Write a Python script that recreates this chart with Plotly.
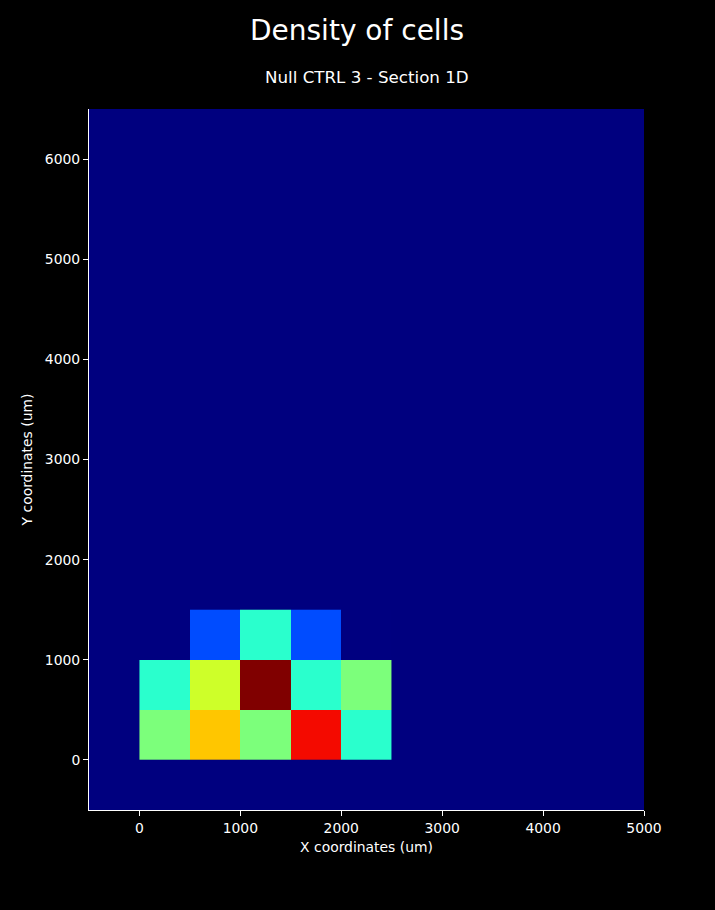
import numpy as np
import plotly.graph_objects as go

# Data: bin centers (um) and cell counts per 500 um bin
x_centers = [250, 750, 1250, 1750, 2250]
y_centers = [250, 750, 1250]
counts = [
    [5, 7, 5, 9, 4],    # y 0-500
    [4, 6, 10, 4, 5],   # y 500-1000
    [0, 2, 4, 2, 0],    # y 1000-1500
]
x_ticks = [0, 1000, 2000, 3000, 4000, 5000]
y_ticks = [0, 1000, 2000, 3000, 4000, 5000, 6000]

# matplotlib 'jet' colormap
def jet_scale():
    red = [(0, 0), (0.35, 0), (0.66, 1), (0.89, 1), (1, 0.5)]
    green = [(0, 0), (0.125, 0), (0.375, 1), (0.64, 1), (0.91, 0), (1, 0)]
    blue = [(0, 0.5), (0.11, 1), (0.34, 1), (0.65, 0), (1, 0)]
    pts = sorted(set([p for seg in (red, green, blue) for p, _ in seg]))
    def interp(seg, t):
        xs = [a for a, _ in seg]; ys = [b for _, b in seg]
        return float(np.interp(t, xs, ys))
    scale = []
    for t in pts:
        r, g, b = (round(255 * interp(s, t)) for s in (red, green, blue))
        scale.append([t, f"rgb({r},{g},{b})"])
    return scale

jet = jet_scale()
fig = go.Figure(go.Heatmap(
    x=x_centers, y=y_centers, z=counts,
    colorscale=jet, zmin=0, zmax=10, showscale=False,
    hoverongaps=False,
))

font = "DejaVu Sans"
fig.update_layout(
    width=715, height=910,
    paper_bgcolor="black", plot_bgcolor="#00007f",
    margin=dict(l=89, r=71, t=109, b=100),
    font=dict(family=font, color="white", size=14),
)
fig.add_annotation(text="Density of cells", xref="paper", yref="paper",
                   x=(357 - 89) / 555, y=1 + (109 - 31) / 701, xanchor="center", yanchor="middle",
                   showarrow=False, font=dict(size=28, color="white", family=font))
fig.add_annotation(text="Null CTRL 3 - Section 1D", xref="paper", yref="paper",
                   x=(367 - 89) / 555, y=1 + (109 - 77) / 701, xanchor="center", yanchor="middle",
                   showarrow=False, font=dict(size=16.7, color="white", family=font))

fig.update_xaxes(
    range=[-500, 5000], tickvals=x_ticks, ticktext=[str(v) for v in x_ticks],
    showgrid=False, zeroline=False, showline=True, linecolor="white", linewidth=1,
    ticks="outside", ticklen=5, tickcolor="white", tickfont=dict(size=13.9),
    title=dict(text="X coordinates (um)", font=dict(size=13.9), standoff=7),
)
fig.update_yaxes(
    range=[-500, 6500], tickvals=y_ticks, ticktext=[str(v) for v in y_ticks],
    showgrid=False, zeroline=False, showline=True, linecolor="white", linewidth=1,
    ticks="outside", ticklen=5, tickcolor="white", tickfont=dict(size=13.9),
    title=dict(text="Y coordinates (um)", font=dict(size=13.9), standoff=8),
)

fig.write_html("out.html")
